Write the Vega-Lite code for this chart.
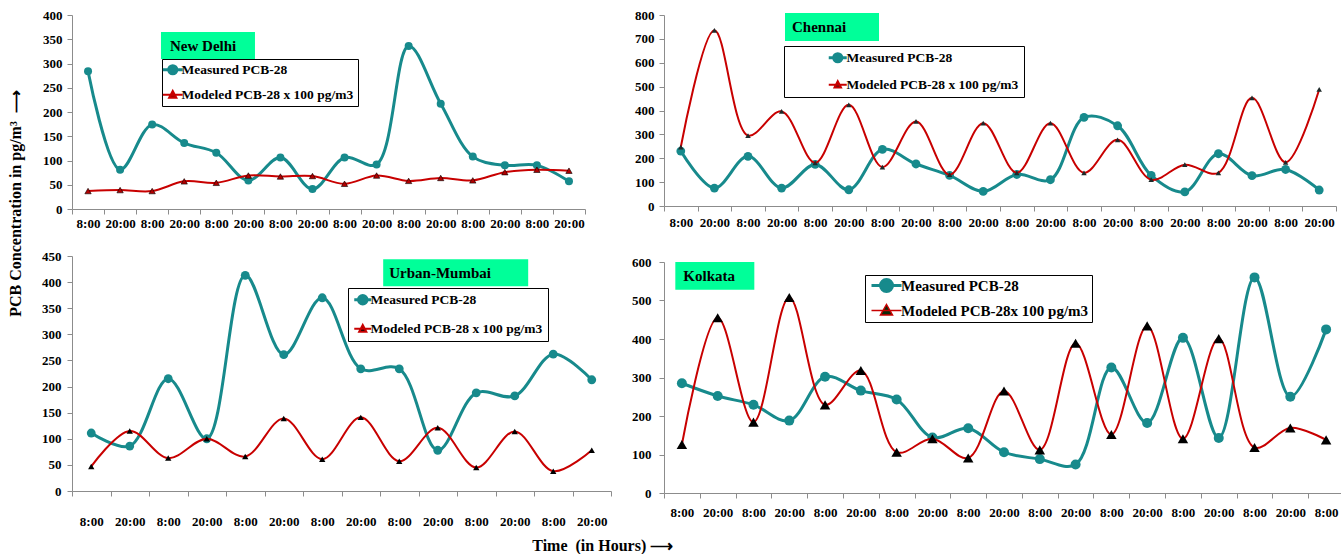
{
"$schema": "https://vega.github.io/schema/vega-lite/v6.json",
"padding": {"left": 7, "top": 9, "right": 0, "bottom": 0},
"background": "white",
"title": {"text": "Time\u00a0\u00a0(in Hours) \u27f6", "orient": "bottom", "anchor": "middle", "fontSize": 16, "font": "Liberation Serif", "fontWeight": "bold", "color": "#000", "offset": 10, "dx": -73},
"config": {
  "view": {"stroke": null},
  "axis": {"labelFont": "Liberation Serif", "labelFontWeight": "bold", "labelFontSize": 13, "labelColor": "#000", "domainColor": "#8c8c8c", "tickColor": "#8c8c8c", "grid": false, "titleFont": "Liberation Serif", "titleFontWeight": "bold", "titleColor": "#000"},
  "legend": {"labelFont": "Liberation Serif", "labelFontWeight": "bold", "labelColor": "#000", "labelLimit": 500, "fillColor": "#fff", "strokeColor": "#000", "titleFont": "Liberation Serif"}
},
"resolve": {"scale": {"color": "independent"}, "legend": {"color": "independent"}},
"spacing": 16,
"hconcat": [
{
 "vconcat": [
 {
  "width": 513, "height": 194,
  "data": {"values": [
   {"t":"8:00|1","s":"Measured PCB-28","v":284},{"t":"20:00|1","s":"Measured PCB-28","v":81},{"t":"8:00|2","s":"Measured PCB-28","v":174},{"t":"20:00|2","s":"Measured PCB-28","v":136},
   {"t":"8:00|3","s":"Measured PCB-28","v":116},{"t":"20:00|3","s":"Measured PCB-28","v":59},{"t":"8:00|4","s":"Measured PCB-28","v":106},{"t":"20:00|4","s":"Measured PCB-28","v":41},
   {"t":"8:00|5","s":"Measured PCB-28","v":106},{"t":"20:00|5","s":"Measured PCB-28","v":92},{"t":"8:00|6","s":"Measured PCB-28","v":336},{"t":"20:00|6","s":"Measured PCB-28","v":217},
   {"t":"8:00|7","s":"Measured PCB-28","v":108},{"t":"20:00|7","s":"Measured PCB-28","v":90},{"t":"8:00|8","s":"Measured PCB-28","v":90},{"t":"20:00|8","s":"Measured PCB-28","v":57},
   {"t":"8:00|1","s":"Modeled PCB-28 x 100 pg/m3","v":37},{"t":"20:00|1","s":"Modeled PCB-28 x 100 pg/m3","v":39},{"t":"8:00|2","s":"Modeled PCB-28 x 100 pg/m3","v":37},{"t":"20:00|2","s":"Modeled PCB-28 x 100 pg/m3","v":57},
   {"t":"8:00|3","s":"Modeled PCB-28 x 100 pg/m3","v":54},{"t":"20:00|3","s":"Modeled PCB-28 x 100 pg/m3","v":69},{"t":"8:00|4","s":"Modeled PCB-28 x 100 pg/m3","v":67},{"t":"20:00|4","s":"Modeled PCB-28 x 100 pg/m3","v":68},
   {"t":"8:00|5","s":"Modeled PCB-28 x 100 pg/m3","v":52},{"t":"20:00|5","s":"Modeled PCB-28 x 100 pg/m3","v":69},{"t":"8:00|6","s":"Modeled PCB-28 x 100 pg/m3","v":58},{"t":"20:00|6","s":"Modeled PCB-28 x 100 pg/m3","v":64},
   {"t":"8:00|7","s":"Modeled PCB-28 x 100 pg/m3","v":59},{"t":"20:00|7","s":"Modeled PCB-28 x 100 pg/m3","v":76},{"t":"8:00|8","s":"Modeled PCB-28 x 100 pg/m3","v":81},{"t":"20:00|8","s":"Modeled PCB-28 x 100 pg/m3","v":79}
  ]},
  "encoding": {
   "x": {"field": "t", "type": "nominal", "sort": null,
     "scale": {"type": "band", "paddingInner": 0, "paddingOuter": 0, "domain": ["8:00|1","20:00|1","8:00|2","20:00|2","8:00|3","20:00|3","8:00|4","20:00|4","8:00|5","20:00|5","8:00|6","20:00|6","8:00|7","20:00|7","8:00|8","20:00|8"]},
     "axis": {"title": null, "labelAngle": 0, "tickBand": "extent", "tickSize": 5, "labelPadding": 3, "labelOverlap": false, "labelExpr": "isValid(datum.value) ? split(datum.value,'|')[0] : ''"}},
   "y": {"field": "v", "type": "quantitative", "scale": {"domain": [0, 400], "nice": false},
     "axis": {"title": null, "values": [0,50,100,150,200,250,300,350,400], "tickSize": 5, "labelPadding": 5}}
  },
  "layer": [
   {"transform": [{"filter": "datum.s === 'Measured PCB-28'"}],
    "mark": {"type": "line", "interpolate": "catmull-rom", "strokeWidth": 3},
    "encoding": {"color": {"field": "s", "type": "nominal", "scale": {"domain": ["Measured PCB-28", "Modeled PCB-28 x 100 pg/m3"], "range": ["#178A8C", "#C80000"]},
      "legend": {"title": null, "orient": "none", "legendX": 90, "legendY": 44, "padding": 4, "rowPadding": 6, "labelFontSize": 13.5, "labelOffset": 2, "symbolSize": 324,
        "encode": {"symbols": {"update": {
          "shape": {"signal": "datum.value === 'Measured PCB-28' ? 'M-1.1,0H1.1M0.45,0A0.45,0.45,0,1,1,-0.45,0A0.45,0.45,0,1,1,0.45,0Z' : 'M-1.1,0H1.1M0,-0.42L0.4,0.33L-0.4,0.33Z'"},
          "fill": {"signal": "datum.value === 'Measured PCB-28' ? '#178A8C' : '#A00000'"},
          "stroke": {"signal": "datum.value === 'Measured PCB-28' ? '#178A8C' : '#C80000'"},
          "strokeWidth": {"signal": "datum.value === 'Measured PCB-28' ? 3 : 2"},
          "opacity": {"value": 1}, "fillOpacity": {"value": 1}, "strokeOpacity": {"value": 1}}}}}}}},
   {"transform": [{"filter": "datum.s === 'Measured PCB-28'"}],
    "mark": {"type": "point", "filled": true, "shape": "circle", "size": 64, "opacity": 1, "fill": "#178A8C"}},
   {"transform": [{"filter": "datum.s !== 'Measured PCB-28'"}],
    "mark": {"type": "line", "interpolate": "catmull-rom", "strokeWidth": 2, "stroke": "#C80000"}},
   {"transform": [{"filter": "datum.s !== 'Measured PCB-28'"}],
    "mark": {"type": "point", "filled": true, "shape": "triangle-up", "size": 40, "fill": "#B00000", "stroke": "#000", "strokeWidth": 0.6, "opacity": 1}},
   {"transform": [{"filter": "datum.t === '8:00|1' && datum.s === 'Measured PCB-28'"}],
    "mark": {"type": "point", "filled": true, "shape": "M-1,-0.287H1V0.287H-1Z", "size": 8836, "fill": "#00FF99", "opacity": 1},
    "encoding": {"x": {"datum": "8:00|3", "bandPosition": 0.241}, "y": {"datum": 337}}},
   {"transform": [{"filter": "datum.t === '8:00|1' && datum.s === 'Measured PCB-28'"}],
    "mark": {"type": "text", "align": "left", "baseline": "middle", "font": "Liberation Serif", "fontSize": 15, "fontWeight": "bold", "color": "#000"},
    "encoding": {"x": {"datum": "20:00|2", "bandPosition": 0.056}, "y": {"datum": 337}, "text": {"value": "New Delhi"}}}
  ]
 },
 {
  "width": 539, "height": 235,
  "data": {"values": [
   {"t":"8:00|1","s":"Measured PCB-28","v":111},{"t":"20:00|1","s":"Measured PCB-28","v":86},{"t":"8:00|2","s":"Measured PCB-28","v":215},{"t":"20:00|2","s":"Measured PCB-28","v":100},
   {"t":"8:00|3","s":"Measured PCB-28","v":413},{"t":"20:00|3","s":"Measured PCB-28","v":261},{"t":"8:00|4","s":"Measured PCB-28","v":370},{"t":"20:00|4","s":"Measured PCB-28","v":234},
   {"t":"8:00|5","s":"Measured PCB-28","v":234},{"t":"20:00|5","s":"Measured PCB-28","v":78},{"t":"8:00|6","s":"Measured PCB-28","v":188},{"t":"20:00|6","s":"Measured PCB-28","v":182},
   {"t":"8:00|7","s":"Measured PCB-28","v":262},{"t":"20:00|7","s":"Measured PCB-28","v":213},
   {"t":"8:00|1","s":"Modeled PCB-28 x 100 pg/m3","v":47},{"t":"20:00|1","s":"Modeled PCB-28 x 100 pg/m3","v":115},{"t":"8:00|2","s":"Modeled PCB-28 x 100 pg/m3","v":63},{"t":"20:00|2","s":"Modeled PCB-28 x 100 pg/m3","v":100},
   {"t":"8:00|3","s":"Modeled PCB-28 x 100 pg/m3","v":66},{"t":"20:00|3","s":"Modeled PCB-28 x 100 pg/m3","v":139},{"t":"8:00|4","s":"Modeled PCB-28 x 100 pg/m3","v":61},{"t":"20:00|4","s":"Modeled PCB-28 x 100 pg/m3","v":141},
   {"t":"8:00|5","s":"Modeled PCB-28 x 100 pg/m3","v":57},{"t":"20:00|5","s":"Modeled PCB-28 x 100 pg/m3","v":121},{"t":"8:00|6","s":"Modeled PCB-28 x 100 pg/m3","v":45},{"t":"20:00|6","s":"Modeled PCB-28 x 100 pg/m3","v":114},
   {"t":"8:00|7","s":"Modeled PCB-28 x 100 pg/m3","v":38},{"t":"20:00|7","s":"Modeled PCB-28 x 100 pg/m3","v":78}
  ]},
  "encoding": {
   "x": {"field": "t", "type": "nominal", "sort": null,
     "scale": {"type": "band", "paddingInner": 0, "paddingOuter": 0, "domain": ["8:00|1","20:00|1","8:00|2","20:00|2","8:00|3","20:00|3","8:00|4","20:00|4","8:00|5","20:00|5","8:00|6","20:00|6","8:00|7","20:00|7"]},
     "axis": {"title": null, "labelAngle": 0, "tickBand": "extent", "tickSize": 5, "labelPadding": 19, "labelOverlap": false, "labelExpr": "isValid(datum.value) ? split(datum.value,'|')[0] : ''"}},
   "y": {"field": "v", "type": "quantitative", "scale": {"domain": [0, 450], "nice": false},
     "axis": {"values": [0,50,100,150,200,250,300,350,400,450], "tickSize": 5, "labelPadding": 6,
       "title": "PCB Concentration in pg/m\u00b3\u00a0\u00a0\u27f6", "titleFontSize": 16, "titleX": -57, "titleY": -53, "titleAngle": -90, "titleAlign": "center", "titleBaseline": "middle"}}
  },
  "layer": [
   {"transform": [{"filter": "datum.s === 'Measured PCB-28'"}],
    "mark": {"type": "line", "interpolate": "catmull-rom", "strokeWidth": 3},
    "encoding": {"color": {"field": "s", "type": "nominal", "scale": {"domain": ["Measured PCB-28", "Modeled PCB-28 x 100 pg/m3"], "range": ["#178A8C", "#C80000"]},
      "legend": {"title": " ", "titleOrient": "left", "titlePadding": 3, "titleFontSize": 13, "orient": "none", "legendX": 276, "legendY": 32, "padding": 5, "rowPadding": 10, "labelFontSize": 13.5, "labelOffset": 1, "symbolSize": 289,
        "labelExpr": "datum.label + '\u00a0\u00a0\u00a0'",
        "encode": {"symbols": {"update": {
          "shape": {"signal": "datum.value === 'Measured PCB-28' ? 'M-1,0H1M0.5,0A0.5,0.5,0,1,1,-0.5,0A0.5,0.5,0,1,1,0.5,0Z' : 'M-1,0H1M0,-0.45L0.42,0.35L-0.42,0.35Z'"},
          "fill": {"signal": "datum.value === 'Measured PCB-28' ? '#178A8C' : '#000'"},
          "stroke": {"signal": "datum.value === 'Measured PCB-28' ? '#178A8C' : '#C80000'"},
          "strokeWidth": {"signal": "datum.value === 'Measured PCB-28' ? 3 : 2"},
          "opacity": {"value": 1}, "fillOpacity": {"value": 1}, "strokeOpacity": {"value": 1}}}}}}}},
   {"transform": [{"filter": "datum.s === 'Measured PCB-28'"}],
    "mark": {"type": "point", "filled": true, "shape": "circle", "size": 78, "opacity": 1, "fill": "#178A8C"}},
   {"transform": [{"filter": "datum.s !== 'Measured PCB-28'"}],
    "mark": {"type": "line", "interpolate": "catmull-rom", "strokeWidth": 2, "stroke": "#C80000"}},
   {"transform": [{"filter": "datum.s !== 'Measured PCB-28'"}],
    "mark": {"type": "point", "filled": true, "shape": "triangle-up", "size": 40, "fill": "#000", "opacity": 1}},
   {"transform": [{"filter": "datum.t === '8:00|1' && datum.s === 'Measured PCB-28'"}],
    "mark": {"type": "point", "filled": true, "shape": "M-1,-0.186H1V0.186H-1Z", "size": 21025, "fill": "#00FF99", "opacity": 1},
    "encoding": {"x": {"datum": "20:00|5", "bandPosition": 0.966}, "y": {"datum": 418}}},
   {"transform": [{"filter": "datum.t === '8:00|1' && datum.s === 'Measured PCB-28'"}],
    "mark": {"type": "text", "align": "left", "baseline": "middle", "font": "Liberation Serif", "fontSize": 15, "fontWeight": "bold", "color": "#000"},
    "encoding": {"x": {"datum": "8:00|5", "bandPosition": 0.24}, "y": {"datum": 418}, "text": {"value": "Urban-Mumbai"}}}
  ]
 }
 ],
 "bounds": "flush",
 "spacing": 47,
 "resolve": {"scale": {"color": "independent"}, "legend": {"color": "independent"}}
},
{
 "vconcat": [
 {
  "width": 672, "height": 191,
  "data": {"values": [
   {"t":"8:00|1","s":"Measured PCB-28","v":230},{"t":"20:00|1","s":"Measured PCB-28","v":75},{"t":"8:00|2","s":"Measured PCB-28","v":208},{"t":"20:00|2","s":"Measured PCB-28","v":75},
   {"t":"8:00|3","s":"Measured PCB-28","v":174},{"t":"20:00|3","s":"Measured PCB-28","v":68},{"t":"8:00|4","s":"Measured PCB-28","v":237},{"t":"20:00|4","s":"Measured PCB-28","v":176},
   {"t":"8:00|5","s":"Measured PCB-28","v":128},{"t":"20:00|5","s":"Measured PCB-28","v":61},{"t":"8:00|6","s":"Measured PCB-28","v":132},{"t":"20:00|6","s":"Measured PCB-28","v":110},
   {"t":"8:00|7","s":"Measured PCB-28","v":371},{"t":"20:00|7","s":"Measured PCB-28","v":336},{"t":"8:00|8","s":"Measured PCB-28","v":128},{"t":"20:00|8","s":"Measured PCB-28","v":59},
   {"t":"8:00|9","s":"Measured PCB-28","v":219},{"t":"20:00|9","s":"Measured PCB-28","v":127},{"t":"8:00|10","s":"Measured PCB-28","v":153},{"t":"20:00|10","s":"Measured PCB-28","v":67},
   {"t":"8:00|1","s":"Modeled PCB-28 x 100 pg/m3","v":247},{"t":"20:00|1","s":"Modeled PCB-28 x 100 pg/m3","v":736},{"t":"8:00|2","s":"Modeled PCB-28 x 100 pg/m3","v":295},{"t":"20:00|2","s":"Modeled PCB-28 x 100 pg/m3","v":396},
   {"t":"8:00|3","s":"Modeled PCB-28 x 100 pg/m3","v":181},{"t":"20:00|3","s":"Modeled PCB-28 x 100 pg/m3","v":424},{"t":"8:00|4","s":"Modeled PCB-28 x 100 pg/m3","v":163},{"t":"20:00|4","s":"Modeled PCB-28 x 100 pg/m3","v":354},
   {"t":"8:00|5","s":"Modeled PCB-28 x 100 pg/m3","v":131},{"t":"20:00|5","s":"Modeled PCB-28 x 100 pg/m3","v":347},{"t":"8:00|6","s":"Modeled PCB-28 x 100 pg/m3","v":139},{"t":"20:00|6","s":"Modeled PCB-28 x 100 pg/m3","v":347},
   {"t":"8:00|7","s":"Modeled PCB-28 x 100 pg/m3","v":139},{"t":"20:00|7","s":"Modeled PCB-28 x 100 pg/m3","v":277},{"t":"8:00|8","s":"Modeled PCB-28 x 100 pg/m3","v":110},{"t":"20:00|8","s":"Modeled PCB-28 x 100 pg/m3","v":173},
   {"t":"8:00|9","s":"Modeled PCB-28 x 100 pg/m3","v":139},{"t":"20:00|9","s":"Modeled PCB-28 x 100 pg/m3","v":453},{"t":"8:00|10","s":"Modeled PCB-28 x 100 pg/m3","v":183},{"t":"20:00|10","s":"Modeled PCB-28 x 100 pg/m3","v":488}
  ]},
  "encoding": {
   "x": {"field": "t", "type": "nominal", "sort": null,
     "scale": {"type": "band", "paddingInner": 0, "paddingOuter": 0, "domain": ["8:00|1","20:00|1","8:00|2","20:00|2","8:00|3","20:00|3","8:00|4","20:00|4","8:00|5","20:00|5","8:00|6","20:00|6","8:00|7","20:00|7","8:00|8","20:00|8","8:00|9","20:00|9","8:00|10","20:00|10"]},
     "axis": {"title": null, "labelAngle": 0, "tickBand": "extent", "tickSize": 5, "labelPadding": 5, "labelOverlap": false, "labelExpr": "isValid(datum.value) ? split(datum.value,'|')[0] : ''"}},
   "y": {"field": "v", "type": "quantitative", "scale": {"domain": [0, 800], "nice": false},
     "axis": {"title": null, "values": [0,100,200,300,400,500,600,700,800], "tickSize": 5, "labelPadding": 5, "minExtent": 36}}
  },
  "layer": [
   {"transform": [{"filter": "datum.s === 'Measured PCB-28'"}],
    "mark": {"type": "line", "interpolate": "catmull-rom", "strokeWidth": 3},
    "encoding": {"color": {"field": "s", "type": "nominal", "scale": {"domain": ["Measured PCB-28", "Modeled PCB-28 x 100 pg/m3"], "range": ["#178A8C", "#C80000"]},
      "legend": {"title": " ", "titleOrient": "left", "titlePadding": 42, "titleFontSize": 13, "orient": "none", "legendX": 120, "legendY": 31, "padding": 5, "rowPadding": 9, "labelFontSize": 13.5, "labelOffset": 2, "symbolSize": 324,
        "labelExpr": "datum.label + '\u00a0\u00a0\u00a0\u00a0\u00a0\u00a0\u00a0\u00a0\u00a0\u00a0\u00a0\u00a0\u00a0\u00a0'",
        "encode": {"symbols": {"update": {
          "shape": {"signal": "datum.value === 'Measured PCB-28' ? 'M-1,0H1M0.45,0A0.45,0.45,0,1,1,-0.45,0A0.45,0.45,0,1,1,0.45,0Z' : 'M-1,0H1M0,-0.4L0.36,0.3L-0.36,0.3Z'"},
          "fill": {"signal": "datum.value === 'Measured PCB-28' ? '#178A8C' : '#222'"},
          "stroke": {"signal": "datum.value === 'Measured PCB-28' ? '#178A8C' : '#C80000'"},
          "strokeWidth": {"signal": "datum.value === 'Measured PCB-28' ? 3 : 2"},
          "opacity": {"value": 1}, "fillOpacity": {"value": 1}, "strokeOpacity": {"value": 1}}}}}}}},
   {"transform": [{"filter": "datum.s === 'Measured PCB-28'"}],
    "mark": {"type": "point", "filled": true, "shape": "circle", "size": 78, "opacity": 1, "fill": "#178A8C"}},
   {"transform": [{"filter": "datum.s !== 'Measured PCB-28'"}],
    "mark": {"type": "line", "interpolate": "catmull-rom", "strokeWidth": 2, "stroke": "#C80000"}},
   {"transform": [{"filter": "datum.s !== 'Measured PCB-28'"}],
    "mark": {"type": "point", "filled": true, "shape": "triangle-up", "size": 30, "fill": "#1e2a2a", "opacity": 1}},
   {"transform": [{"filter": "datum.t === '8:00|1' && datum.s === 'Measured PCB-28'"}],
    "mark": {"type": "point", "filled": true, "shape": "M-1,-0.298H1V0.298H-1Z", "size": 8836, "fill": "#00FF99", "opacity": 1},
    "encoding": {"x": {"datum": "20:00|3", "bandPosition": 0.0}, "y": {"datum": 750}}},
   {"transform": [{"filter": "datum.t === '8:00|1' && datum.s === 'Measured PCB-28'"}],
    "mark": {"type": "text", "align": "left", "baseline": "middle", "font": "Liberation Serif", "fontSize": 15, "fontWeight": "bold", "color": "#000"},
    "encoding": {"x": {"datum": "20:00|2", "bandPosition": 0.81}, "y": {"datum": 750}, "text": {"value": "Chennai"}}}
  ]
 },
 {
  "width": 680, "height": 231,
  "data": {"values": [
   {"t":"8:00|1","s":"Measured PCB-28","v":285},{"t":"20:00|1","s":"Measured PCB-28","v":252},{"t":"8:00|2","s":"Measured PCB-28","v":229},{"t":"20:00|2","s":"Measured PCB-28","v":188},
   {"t":"8:00|3","s":"Measured PCB-28","v":302},{"t":"20:00|3","s":"Measured PCB-28","v":266},{"t":"8:00|4","s":"Measured PCB-28","v":243},{"t":"20:00|4","s":"Measured PCB-28","v":144},
   {"t":"8:00|5","s":"Measured PCB-28","v":168},{"t":"20:00|5","s":"Measured PCB-28","v":106},{"t":"8:00|6","s":"Measured PCB-28","v":88},{"t":"20:00|6","s":"Measured PCB-28","v":74},
   {"t":"8:00|7","s":"Measured PCB-28","v":326},{"t":"20:00|7","s":"Measured PCB-28","v":182},{"t":"8:00|8","s":"Measured PCB-28","v":403},{"t":"20:00|8","s":"Measured PCB-28","v":143},
   {"t":"8:00|9","s":"Measured PCB-28","v":560},{"t":"20:00|9","s":"Measured PCB-28","v":250},{"t":"8:00|10","s":"Measured PCB-28","v":425},
   {"t":"8:00|1","s":"Modeled PCB-28x 100 pg/m3","v":126},{"t":"20:00|1","s":"Modeled PCB-28x 100 pg/m3","v":455},{"t":"8:00|2","s":"Modeled PCB-28x 100 pg/m3","v":184},{"t":"20:00|2","s":"Modeled PCB-28x 100 pg/m3","v":508},
   {"t":"8:00|3","s":"Modeled PCB-28x 100 pg/m3","v":229},{"t":"20:00|3","s":"Modeled PCB-28x 100 pg/m3","v":318},{"t":"8:00|4","s":"Modeled PCB-28x 100 pg/m3","v":106},{"t":"20:00|4","s":"Modeled PCB-28x 100 pg/m3","v":141},
   {"t":"8:00|5","s":"Modeled PCB-28x 100 pg/m3","v":91},{"t":"20:00|5","s":"Modeled PCB-28x 100 pg/m3","v":265},{"t":"8:00|6","s":"Modeled PCB-28x 100 pg/m3","v":112},{"t":"20:00|6","s":"Modeled PCB-28x 100 pg/m3","v":389},
   {"t":"8:00|7","s":"Modeled PCB-28x 100 pg/m3","v":152},{"t":"20:00|7","s":"Modeled PCB-28x 100 pg/m3","v":434},{"t":"8:00|8","s":"Modeled PCB-28x 100 pg/m3","v":141},{"t":"20:00|8","s":"Modeled PCB-28x 100 pg/m3","v":401},
   {"t":"8:00|9","s":"Modeled PCB-28x 100 pg/m3","v":118},{"t":"20:00|9","s":"Modeled PCB-28x 100 pg/m3","v":169},{"t":"8:00|10","s":"Modeled PCB-28x 100 pg/m3","v":138}
  ]},
  "encoding": {
   "x": {"field": "t", "type": "nominal", "sort": null,
     "scale": {"type": "band", "paddingInner": 0, "paddingOuter": 0, "domain": ["8:00|1","20:00|1","8:00|2","20:00|2","8:00|3","20:00|3","8:00|4","20:00|4","8:00|5","20:00|5","8:00|6","20:00|6","8:00|7","20:00|7","8:00|8","20:00|8","8:00|9","20:00|9","8:00|10"]},
     "axis": {"title": null, "labelAngle": 0, "tickBand": "extent", "tickSize": 5, "labelPadding": 8, "labelOverlap": false, "labelExpr": "isValid(datum.value) ? split(datum.value,'|')[0] : ''"}},
   "y": {"field": "v", "type": "quantitative", "scale": {"domain": [0, 600], "nice": false},
     "axis": {"title": null, "values": [0,100,200,300,400,500,600], "tickSize": 5, "labelPadding": 8}}
  },
  "layer": [
   {"transform": [{"filter": "datum.s === 'Measured PCB-28'"}],
    "mark": {"type": "line", "interpolate": "catmull-rom", "strokeWidth": 3},
    "encoding": {"color": {"field": "s", "type": "nominal", "scale": {"domain": ["Measured PCB-28", "Modeled PCB-28x 100 pg/m3"], "range": ["#178A8C", "#C80000"]},
      "legend": {"title": " ", "titleOrient": "left", "titlePadding": 11, "titleFontSize": 15, "orient": "none", "legendX": 201, "legendY": 13, "padding": 3, "rowPadding": 3, "labelFontSize": 15, "labelOffset": 7, "symbolSize": 400,
        "labelExpr": "datum.label + '\u00a0\u00a0\u00a0'",
        "encode": {"symbols": {"update": {
          "shape": {"signal": "datum.value === 'Measured PCB-28' ? 'M-1.5,0H1.5M0.6,0A0.6,0.6,0,1,1,-0.6,0A0.6,0.6,0,1,1,0.6,0Z' : 'M-1.5,0H1.5M0,-0.6L0.6,0.45L-0.6,0.45Z'"},
          "fill": {"signal": "datum.value === 'Measured PCB-28' ? '#178A8C' : '#0B2B0B'"},
          "stroke": {"signal": "datum.value === 'Measured PCB-28' ? '#178A8C' : '#E06666'"},
          "strokeWidth": {"signal": "datum.value === 'Measured PCB-28' ? 3 : 1.5"},
          "opacity": {"value": 1}, "fillOpacity": {"value": 1}, "strokeOpacity": {"value": 1}}}}}}}},
   {"transform": [{"filter": "datum.s === 'Measured PCB-28'"}],
    "mark": {"type": "point", "filled": true, "shape": "circle", "size": 100, "opacity": 1, "fill": "#178A8C"}},
   {"transform": [{"filter": "datum.s !== 'Measured PCB-28'"}],
    "mark": {"type": "line", "interpolate": "catmull-rom", "strokeWidth": 2, "stroke": "#C80000"}},
   {"transform": [{"filter": "datum.s !== 'Measured PCB-28'"}],
    "mark": {"type": "point", "filled": true, "shape": "triangle-up", "size": 110, "fill": "#000", "opacity": 1}},
   {"transform": [{"filter": "datum.t === '8:00|1' && datum.s === 'Measured PCB-28'"}],
    "mark": {"type": "point", "filled": true, "shape": "M-1,-0.354H1V0.354H-1Z", "size": 6241, "fill": "#00FF99", "opacity": 1},
    "encoding": {"x": {"datum": "20:00|1", "bandPosition": 0.42}, "y": {"datum": 564}}},
   {"transform": [{"filter": "datum.t === '8:00|1' && datum.s === 'Measured PCB-28'"}],
    "mark": {"type": "text", "align": "left", "baseline": "middle", "font": "Liberation Serif", "fontSize": 15, "fontWeight": "bold", "color": "#000"},
    "encoding": {"x": {"datum": "8:00|1", "bandPosition": 0.54}, "y": {"datum": 564}, "text": {"value": "Kolkata"}}}
  ]
 }
 ],
 "bounds": "flush",
 "spacing": 56,
 "resolve": {"scale": {"color": "independent"}, "legend": {"color": "independent"}}
}
]
}
